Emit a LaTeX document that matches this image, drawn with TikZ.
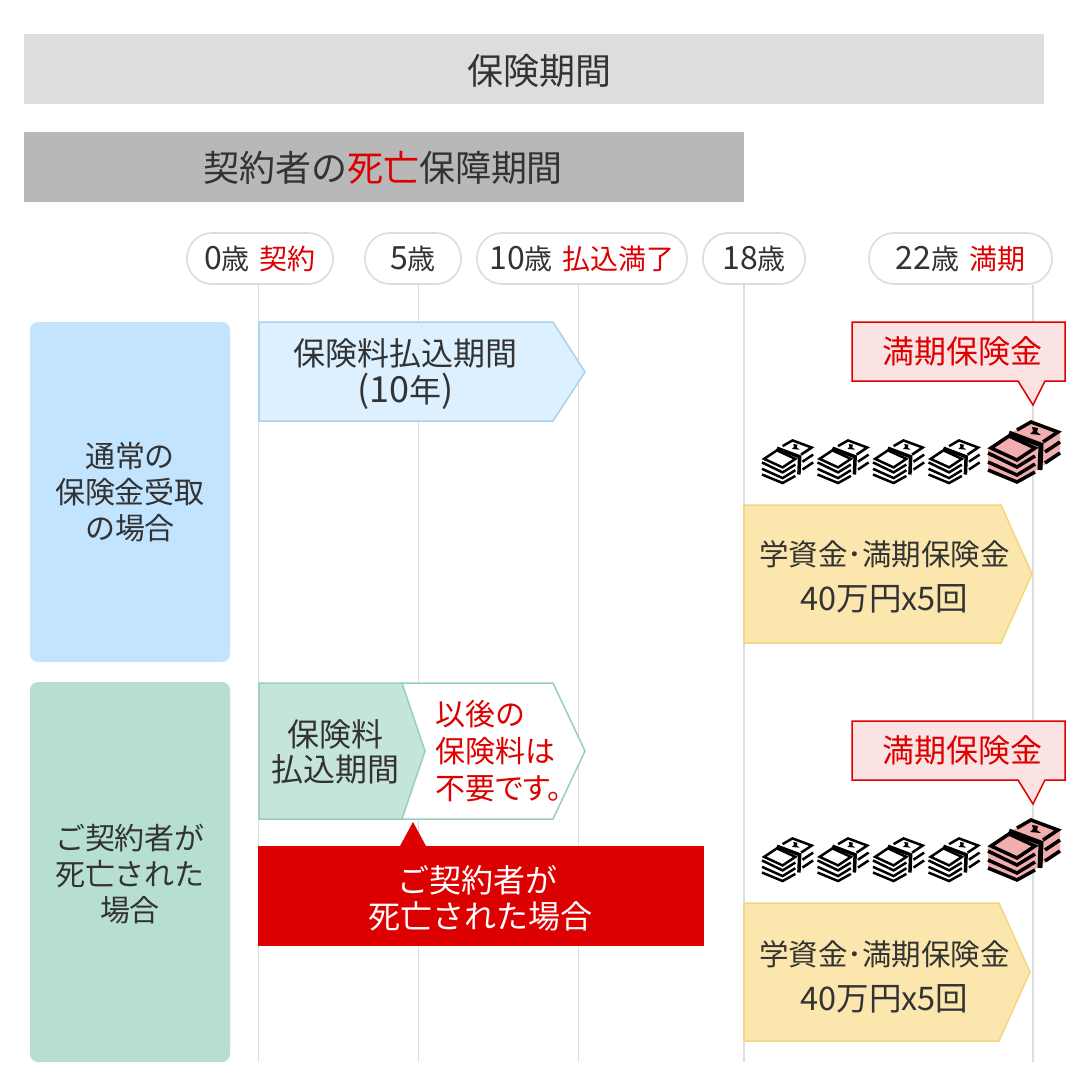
\documentclass[tikz,border=0pt]{standalone}
\usepackage{fontspec}
\setmainfont{Noto Sans CJK JP}
\newfontfamily\propfont[RawFeature=+palt]{Noto Sans CJK JP}
\usepackage{xcolor}
\definecolor{inkgray}{HTML}{333333}
\definecolor{alertred}{HTML}{DD0000}
\definecolor{gridgray}{HTML}{DDDDDD}
\definecolor{darkband}{HTML}{B8B8B8}
\definecolor{bluepanel}{HTML}{C2E4FF}
\definecolor{greenpanel}{HTML}{B6DED1}
\definecolor{bluefill}{HTML}{DCF0FF}
\definecolor{blueline}{HTML}{A5D3EC}
\definecolor{greenfill}{HTML}{C5E5DA}
\definecolor{greenline}{HTML}{98CFBB}
\definecolor{yellowfill}{HTML}{FBE6AE}
\definecolor{yellowline}{HTML}{F3D67E}
\definecolor{pinkfill}{HTML}{FBE3E3}
\definecolor{billpink}{HTML}{F2AEAE}
\newcommand{\fs}[2]{\fontsize{#1}{#2}\selectfont}
\newcommand{\rd}[1]{\textcolor{alertred}{#1}}
\newcommand{\nm}[1]{{\fs{32}{32}#1}}
\newcommand{\gap}{\hspace{10pt}}
\tikzset{
	band/.style={inner sep=0pt, text=inkgray, font=\fs{36}{40}},
	agetag/.style={draw=gridgray, line width=1.7pt, fill=white, rounded corners=25pt, minimum height=51pt, inner sep=0pt, text=inkgray, font=\fs{28}{32}},
	gridline/.style={draw=gridgray, line width=1pt},
	panel/.style={rounded corners=8pt, minimum width=200pt, inner sep=0pt},
	label/.style={align=center, inner sep=0pt, text=inkgray, font=\fs{32}{37}},
	bluearrow/.style={fill=bluefill, draw=blueline, line width=1.5pt},
	greenarrow/.style={draw=greenline, line width=1.5pt},
	yellowarrow/.style={fill=yellowfill, draw=yellowline, line width=1.5pt},
	callout/.style={draw=alertred, fill=pinkfill, line width=1.5pt},
	pics/billstack/.style={code={
		\fill[#1] (0,28) -- (43,0) -- (72,12) -- (72,34) -- (30,63) -- (0,52) -- cycle;
		\begin{scope}[line width=\stackwd, draw=black, line join=miter]
			\draw (3,28) -- (21,16) -- (47,28) -- (29,40) -- cycle;
			\draw (0,33) -- (29,47) -- (47,36);
			\draw (0,42) -- (29,55) -- (47,44);
			\draw (0,50) -- (29,62) -- (47,52);
			\draw (57,32) -- (72,22);
			\draw (57,43) -- (72,33);
			\draw (29,10) -- (43,2) -- (70,12) -- (55,22);
			\draw[line width=1.4*\stackwd] (21,13) -- (53,25) -- (52,50);
			\fill (44,7) -- (50,8) -- (49,12) -- (53,15) -- (42,14) -- (45,11) -- cycle;
		\end{scope}
	}},
}
\begin{document}
\begin{tikzpicture}[x=1pt, y=-1pt]
	\useasboundingbox (0,0) rectangle (1080,1080);
	\fill[white] (0,0) rectangle (1080,1080);

	\node[band, fill=gridgray, minimum width=1020pt, minimum height=70pt] (whole) at (534,69) {};
	\node[band] (wholetext) at (539,71) {保険期間};
	\node[band, fill=darkband, minimum width=720pt, minimum height=70pt] (death) at (384,167) {};
	\node[band] (deathtext) at (383,168) {契約者の\rd{死亡}保障期間};

	% grid lines
	\coordinate (end0) at (258,1062);
	\coordinate (end5) at (418,1062);
	\coordinate (end10) at (578,1062);
	\coordinate (end18) at (744,1062);
	\coordinate (end22) at (1033,1062);

	% age tags
	\node[agetag, minimum width=146pt] (tag0) at (260,258.5) {\nm{0}歳\gap\rd{契約}};
	\node[agetag, minimum width=96pt] (tag5) at (413,258.5) {\nm{5}歳};
	\node[agetag, minimum width=210pt] (tag10) at (582,258.5) {\nm{10}歳\gap\rd{払込満了}};
	\node[agetag, minimum width=102pt] (tag18) at (754,258.5) {\nm{18}歳};
	\node[agetag, minimum width=183pt] (tag22) at (960.5,258.5) {\nm{22}歳\gap\rd{満期}};

	\draw[gridline] (tag0.south -| end0) -- (end0);
	\draw[gridline] (tag5.south -| end5) -- (end5);
	\draw[gridline] (tag10.south -| end10) -- (end10);
	\draw[gridline, line width=1.5pt] (tag18.south -| end18) -- (end18);
	\draw[gridline, line width=2pt] (tag22.south -| end22) -- (end22);

	% left panels
	\node[panel, fill=bluepanel, minimum height=340pt] (normal) at (130,492) {};
	\node[label, font=\fs{30}{36}] (normaltext) at (130,492.5) {通常の\\保険金受取\\の場合};
	\node[panel, fill=greenpanel, minimum height=380pt] (dead) at (130,872) {};
	\node[label, font=\fs{30}{36}] (deadtext) at (130,874) {ご契約者が\\死亡された\\場合};

	% normal case
	\draw[bluearrow] (259,322) -- (553,322) -- (585,372) -- (553,421) -- (259,421) -- cycle;
	\node[label] (payterm) at (405.5,374) {保険料払込期間\\{\fs{36}{37}(10}年{\fs{36}{37})}};

	\draw[callout] (852,322) -- (1065,322) -- (1065,381) -- (1045,381) -- (1033,405) -- (1018,381) -- (852,381) -- cycle;
	\node[label, text=alertred] (due) at (962,351) {満期保険金};

	\def\stackwd{2.5pt}
	\pic[scale=.71] at (762,439) {billstack=white};
	\pic[scale=.71] at (817.5,439) {billstack=white};
	\pic[scale=.71] at (873,439) {billstack=white};
	\pic[scale=.71] at (928.5,439) {billstack=white};
	\def\stackwd{3.5pt}
	\pic at (988,420) {billstack=billpink};

	\draw[yellowarrow] (744,505) -- (1001,505) -- (1032,574) -- (1001,643) -- (744,643) -- cycle;
	\node[label, font=\fs{29.5}{45}] (money) at (884.5,577) {学資金･満期保険金\\{\fs{32.5}{47}40万円x5回}};

	% death case
	\draw[greenarrow, fill=white] (402,683) -- (553,683) -- (585,751) -- (553,819) -- (402,819) -- cycle;
	\draw[greenarrow, fill=greenfill] (259,683) -- (402,683) -- (425,751) -- (402,819) -- (259,819) -- cycle;
	\node[label, font=\fs{32}{35}] (payshort) at (335,752) {保険料\\払込期間};
	\node[label, font=\fs{30}{37}, text=alertred, align=left] (nopay) at (499,751) {以後の\\保険料は\\{\propfont 不要です。}};

	\node[minimum width=446pt, minimum height=100pt, inner sep=0pt, fill=alertred] (event) at (481,896) {};
	\node[label, text=white, font=\fs{32}{36}] (eventtext) at (480,898) {ご契約者が\hspace*{6pt}\\死亡された場合};
	\fill[alertred] (413,822) -- (426,846) -- (400,846) -- cycle;

	\draw[callout] (852,721) -- (1065,721) -- (1065,780) -- (1045,780) -- (1033,804) -- (1018,780) -- (852,780) -- cycle;
	\node[label, text=alertred] (due2) at (962,750) {満期保険金};

	\def\stackwd{2.5pt}
	\pic[scale=.71] at (762,837) {billstack=white};
	\pic[scale=.71] at (817.5,837) {billstack=white};
	\pic[scale=.71] at (873,837) {billstack=white};
	\pic[scale=.71] at (928.5,837) {billstack=white};
	\def\stackwd{3.5pt}
	\pic at (988,818) {billstack=billpink};

	\draw[yellowarrow] (744,903) -- (999,903) -- (1030,972) -- (999,1041) -- (744,1041) -- cycle;
	\node[label, font=\fs{29.5}{45}] (money2) at (884.5,977) {学資金･満期保険金\\{\fs{32.5}{47}40万円x5回}};
\end{tikzpicture}
\end{document}
